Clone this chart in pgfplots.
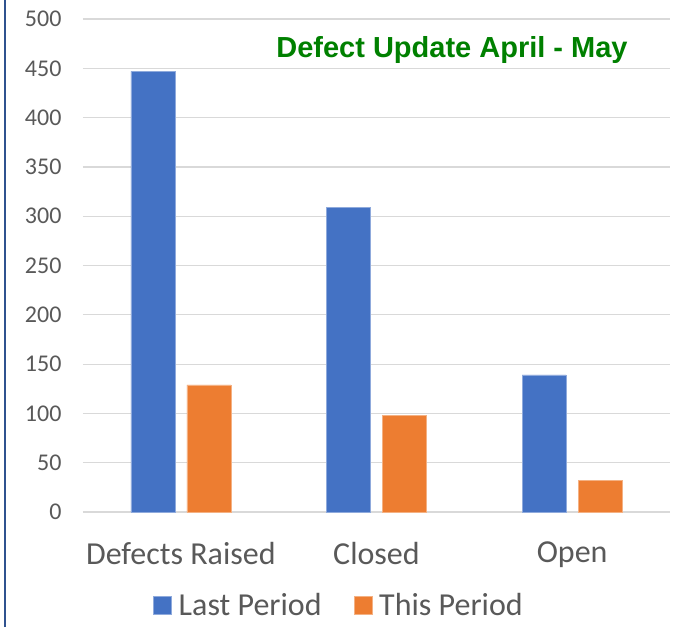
\documentclass[border=0pt]{standalone}
\usepackage{fontspec}
\setmainfont{Carlito}
\newfontfamily\titlefont{Liberation Sans}
\usepackage{pgfplots}
\pgfplotsset{compat=1.18}
\definecolor{lastp}{HTML}{4472C4}
\definecolor{thisp}{HTML}{ED7D31}
\definecolor{gridc}{HTML}{D9D9D9}
\definecolor{labc}{HTML}{595959}
\definecolor{titlec}{HTML}{008000}
\definecolor{framec}{HTML}{2F528F}
\begin{document}
\begin{tikzpicture}
\begin{axis}[
  scale only axis,
  width=587pt, height=493pt,
  ybar=12pt, bar width=44pt,
  xmin=-0.5, xmax=2.5,
  ymin=0, ymax=500,
  ytick={0,50,...,500},
  xtick=data,
  xticklabels={Defects Raised, Closed, Open},
  axis line style={draw=none},
  tick style={draw=none},
  ymajorgrids,
  major grid style={gridc, line width=1.2pt},
  /pgf/number format/assume math mode=true,
  yticklabel style={font=\fontsize{24}{27}\selectfont, text=labc, xshift=-18pt},
  xticklabel style={font=\fontsize{32}{34}\selectfont, text=labc, yshift=-22pt},
  legend style={at={(rel axis cs:0.436,-0.189)}, anchor=center, draw=none,
    font=\fontsize{32}{34}\selectfont, text=labc, legend columns=2,
    /tikz/every even column/.append style={column sep=30pt}},
  legend image code/.code={\fill[#1] (0pt,-9pt) rectangle (18pt,9pt);},
]
\addplot[fill=lastp, draw=lastp!60!white, line width=0.6pt] coordinates {(0,447) (1,309) (2,139)};
\addplot[fill=thisp, draw=thisp!60!white, line width=0.6pt] coordinates {(0,129) (1,98) (2,32)};
\legend{\hspace{5pt}Last Period, \hspace{5pt}This Period}
\node[font=\titlefont\bfseries\fontsize{29}{32}\selectfont, text=titlec] at (rel axis cs:0.6286,0.937) {Defect Update April - May};
\end{axis}
\pgfresetboundingbox
\path[use as bounding box] (-83pt,-115pt) rectangle (594pt,512pt);
\draw[framec, line width=2.5pt] (-78pt,-115pt) -- (-78pt,512pt);
\end{tikzpicture}
\end{document}
